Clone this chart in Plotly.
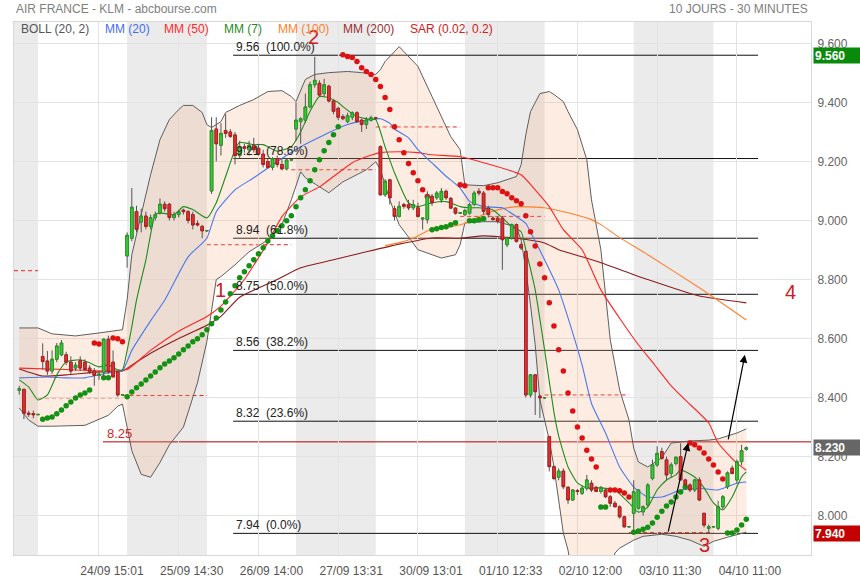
import plotly.graph_objects as go

# ---------------- data ----------------
opens = [8.425, 8.428, 8.347, 8.346, 8.342, 8.539, 8.524, 8.49, 8.53, 8.545, 8.545, 8.52, 8.50, 8.525, 8.52, 8.50, 8.49, 8.475, 8.486, 8.598,
         8.52, 8.487, 8.409, 8.88, 8.94, 9.03, 8.995, 9.015, 8.98, 9.01, 9.025, 9.055, 9.055, 9.01, 9.02, 9.035, 9.03, 9.02, 8.99, 8.98,
         8.965, 9.10, 9.31, 9.255, 9.305, 9.30, 9.29, 9.22, 9.25, 9.24, 9.255, 9.245, 9.225, 9.20, 9.18, 9.21, 9.19, 9.175, 9.205, 9.31,
         9.335, 9.34, 9.385, 9.46, 9.465, 9.43, 9.455, 9.405, 9.38, 9.352, 9.335, 9.35, 9.365, 9.34, 9.325, 9.34, 9.348, 9.25, 9.087, 9.138,
         9.04, 9.014, 9.054, 9.054, 9.043, 9.043, 9.005, 9.003, 9.082, 9.077, 9.07, 9.099, 9.075, 9.042, 9.025, 9.02, 9.025, 9.054, 9.099, 9.093,
         9.042, 9.008, 9.008, 9.008, 8.918, 8.941, 8.986, 8.918, 8.895, 8.409, 8.477, 8.405, 8.399, 8.268, 8.166, 8.130, 8.151, 8.096, 8.053, 8.085,
         8.076, 8.093, 8.110, 8.096, 8.082, 8.087, 8.064, 8.042, 8.030, 7.996, 7.962, 8.008, 8.025, 8.013, 8.036, 8.126, 8.172, 8.217, 8.189, 8.143,
         8.177, 8.200, 8.121, 8.104, 8.087, 8.121, 8.008, 7.957, 7.962, 7.957, 8.030, 8.098, 8.161, 8.121, 8.183, 8.225]
highs = [8.44, 8.43, 8.355, 8.356, 8.345, 8.584, 8.558, 8.56, 8.585, 8.595, 8.555, 8.54, 8.52, 8.54, 8.53, 8.51, 8.50, 8.49, 8.60, 8.61,
         8.56, 8.49, 8.412, 8.96, 9.11, 9.05, 9.04, 9.03, 9.02, 9.03, 9.075, 9.065, 9.06, 9.03, 9.035, 9.04, 9.035, 9.03, 9.00, 8.985,
         8.968, 9.35, 9.35, 9.33, 9.36, 9.31, 9.30, 9.27, 9.26, 9.27, 9.28, 9.26, 9.24, 9.21, 9.215, 9.22, 9.21, 9.21, 9.208, 9.40,
         9.35, 9.43, 9.47, 9.555, 9.475, 9.48, 9.46, 9.41, 9.385, 9.36, 9.365, 9.37, 9.37, 9.345, 9.35, 9.355, 9.35, 9.255, 9.14, 9.14,
         9.05, 9.065, 9.06, 9.07, 9.07, 9.06, 9.01, 9.099, 9.09, 9.10, 9.11, 9.105, 9.08, 9.045, 9.028, 9.04, 9.06, 9.10, 9.11, 9.10,
         9.05, 9.015, 9.015, 9.015, 8.945, 8.99, 8.99, 8.925, 8.90, 8.48, 8.48, 8.41, 8.402, 8.27, 8.17, 8.16, 8.16, 8.10, 8.09, 8.09,
         8.10, 8.138, 8.12, 8.10, 8.10, 8.09, 8.07, 8.05, 8.035, 8.00, 7.965, 8.12, 8.09, 8.035, 8.11, 8.19, 8.235, 8.23, 8.20, 8.18,
         8.20, 8.245, 8.125, 8.11, 8.125, 8.13, 8.01, 7.97, 7.965, 8.05, 8.07, 8.15, 8.17, 8.19, 8.24, 8.235]
lows = [8.41, 8.327, 8.335, 8.33, 8.34, 8.494, 8.477, 8.48, 8.52, 8.54, 8.51, 8.48, 8.49, 8.49, 8.49, 8.48, 8.44, 8.46, 8.47, 8.48,
        8.47, 8.403, 8.407, 8.84, 8.93, 8.96, 8.96, 8.97, 8.97, 9.00, 9.02, 9.03, 9.00, 9.00, 9.01, 9.02, 8.99, 8.97, 8.98, 8.94,
        8.962, 9.09, 9.20, 9.22, 9.28, 9.28, 9.19, 9.21, 9.23, 9.22, 9.23, 9.22, 9.18, 9.175, 9.17, 9.18, 9.17, 9.17, 9.203, 9.27,
        9.26, 9.33, 9.38, 9.45, 9.42, 9.42, 9.40, 9.36, 9.34, 9.34, 9.33, 9.34, 9.33, 9.30, 9.31, 9.335, 9.345, 9.085, 9.08, 9.054,
        9.00, 9.01, 9.04, 9.035, 9.035, 9.01, 8.969, 8.99, 9.05, 9.07, 9.06, 9.07, 9.04, 9.02, 9.022, 9.015, 9.02, 9.05, 9.085, 9.02,
        9.01, 9.00, 8.99, 8.833, 8.91, 8.935, 8.925, 8.90, 8.40, 8.40, 8.341, 8.331, 8.396, 8.15, 8.12, 8.12, 8.09, 8.04, 8.05, 8.07,
        8.07, 8.085, 8.08, 8.08, 8.075, 8.06, 8.03, 8.03, 7.99, 7.96, 7.959, 7.95, 8.02, 8.00, 8.03, 8.12, 8.165, 8.19, 8.12, 8.13,
        8.17, 8.12, 8.10, 8.08, 8.08, 8.05, 7.96, 7.94, 7.959, 7.95, 8.02, 8.09, 8.14, 8.11, 8.17, 8.22]
closes = [8.43, 8.347, 8.343, 8.342, 8.343, 8.522, 8.49, 8.53, 8.575, 8.585, 8.52, 8.49, 8.51, 8.50, 8.495, 8.488, 8.475, 8.48, 8.598, 8.487,
          8.47, 8.409, 8.41, 8.95, 9.045, 8.97, 9.015, 8.98, 9.01, 9.02, 9.055, 9.04, 9.01, 9.02, 9.03, 9.03, 9.00, 8.985, 8.985, 8.965,
          8.966, 9.305, 9.26, 9.295, 9.295, 9.285, 9.22, 9.25, 9.245, 9.255, 9.24, 9.225, 9.19, 9.18, 9.21, 9.19, 9.175, 9.205, 9.206, 9.34,
          9.345, 9.385, 9.46, 9.475, 9.425, 9.46, 9.405, 9.37, 9.35, 9.345, 9.355, 9.365, 9.335, 9.325, 9.34, 9.348, 9.347, 9.087, 9.133, 9.077,
          9.014, 9.048, 9.048, 9.043, 9.054, 9.014, 9.008, 9.082, 9.06, 9.093, 9.099, 9.077, 9.042, 9.025, 9.026, 9.034, 9.054, 9.093, 9.093, 9.031,
          9.02, 9.003, 8.997, 8.935, 8.941, 8.986, 8.929, 8.907, 8.409, 8.477, 8.42, 8.399, 8.40, 8.166, 8.126, 8.151, 8.098, 8.053, 8.087, 8.082,
          8.093, 8.121, 8.087, 8.082, 8.096, 8.064, 8.042, 8.030, 7.996, 7.962, 7.963, 8.081, 8.087, 8.03, 8.104, 8.172, 8.211, 8.194, 8.138, 8.172,
          8.198, 8.121, 8.104, 8.087, 8.121, 8.053, 7.968, 7.962, 7.963, 8.030, 8.064, 8.145, 8.143, 8.183, 8.22, 8.23]

x_tick_bars = [17, 34, 51, 68, 85, 102, 119, 136, 153]
x_tick_labels = ["24/09 15:01", "25/09 14:30", "26/09 14:00", "27/09 13:31", "30/09 13:01",
                 "01/10 12:33", "02/10 12:00", "03/10 11:30", "04/10 11:00"]
y_ticks = [8.0, 8.2, 8.4, 8.6, 8.8, 9.0, 9.2, 9.4, 9.6]

shaded_days = [(-14, 4), (23, 40), (59, 76), (95, 112), (131, 148)]

bb_up_bar = [0, 4, 7, 12, 17, 20, 22, 23, 24, 26, 28, 30, 32, 34, 35, 37, 39, 40, 41, 43, 44, 47, 50, 53, 56, 58, 59, 61, 63, 66,
             70, 73, 76, 77, 78, 81, 85, 88, 92, 94, 95, 99, 102, 106, 107, 108, 109, 111, 113, 114, 116, 117, 119, 121, 122, 124, 125, 126,
             128, 130, 131, 132, 134, 137, 139, 143, 147, 149, 153, 155]
bb_up = [8.636, 8.636, 8.616, 8.609, 8.619, 8.626, 8.630, 8.731, 8.884, 9.020, 9.155, 9.274, 9.342, 9.376, 9.390, 9.390, 9.366, 9.325,
         9.315, 9.335, 9.366, 9.390, 9.410, 9.437, 9.440, 9.420, 9.403, 9.478, 9.495, 9.501, 9.505, 9.501, 9.495, 9.511, 9.539, 9.589,
         9.522, 9.420, 9.284, 9.240, 9.121, 9.118, 9.128, 9.149, 9.189, 9.291, 9.369, 9.430, 9.437, 9.427, 9.403, 9.369, 9.308, 9.206,
         9.070, 8.901, 8.748, 8.596, 8.426, 8.324, 8.229, 8.182, 8.165, 8.196, 8.246, 8.253, 8.256, 8.260, 8.280, 8.294]
bb_lo_bar = [0, 2, 4, 7, 14, 19, 21, 22, 23, 24, 26, 28, 30, 32, 35, 38, 40, 41, 42, 43, 46, 49, 53, 56, 58, 60, 61, 66, 69, 74,
             76, 77, 79, 81, 85, 90, 93, 94, 95, 99, 102, 105, 106, 107, 108, 109, 110, 111, 113, 114, 115, 116, 117, 118, 120, 122, 125,
             127, 128, 131, 133, 137, 140, 143, 146, 148, 151, 155]
bb_lo = [8.365, 8.324, 8.303, 8.303, 8.306, 8.340, 8.371, 8.378, 8.300, 8.220, 8.140, 8.130, 8.180, 8.240, 8.300, 8.450, 8.590, 8.690,
         8.800, 8.810, 8.850, 8.894, 8.934, 8.986, 9.070, 9.165, 9.145, 9.094, 9.131, 9.172, 9.199, 9.172, 9.070, 8.986, 8.901, 8.873,
         8.884, 8.918, 8.992, 8.996, 8.996, 8.982, 8.976, 8.934, 8.833, 8.714, 8.579, 8.392, 8.256, 8.165, 8.053, 7.941, 7.883, 7.780,
         7.710, 7.700, 7.750, 7.873, 7.890, 7.917, 7.930, 7.937, 7.930, 7.917, 7.896, 7.913, 7.927, 7.944]

mm7_bar = [0, 2, 4, 6, 8, 10, 13, 15, 17, 19, 21, 22, 23, 24, 25, 27, 29, 30, 33, 35, 37, 40, 42, 44, 46, 47, 50, 52, 55, 58,
           60, 62, 64, 66, 68, 69, 72, 75, 76, 78, 80, 83, 85, 88, 91, 94, 96, 98, 101, 103, 105, 107, 108, 110, 112, 114, 115, 117,
           119, 121, 124, 127, 130, 132, 134, 136, 138, 140, 141, 144, 146, 148, 150, 152, 154, 155]
mm7 = [8.460, 8.436, 8.392, 8.409, 8.477, 8.521, 8.528, 8.518, 8.504, 8.511, 8.494, 8.494, 8.56, 8.64, 8.73, 8.867, 9.02, 9.026,
       9.02, 9.047, 9.037, 9.009, 9.06, 9.149, 9.24, 9.265, 9.257, 9.257, 9.235, 9.25, 9.30, 9.37, 9.42, 9.416, 9.40, 9.386, 9.352,
       9.342, 9.342, 9.25, 9.162, 9.06, 9.047, 9.06, 9.064, 9.047, 9.043, 9.043, 9.036, 9.009, 8.979, 8.962, 8.901, 8.765, 8.562,
       8.35, 8.27, 8.165, 8.111, 8.094, 8.094, 8.087, 8.043, 8.012, 8.029, 8.087, 8.121, 8.138, 8.155, 8.131, 8.094, 8.043, 8.019,
       8.063, 8.131, 8.148]

mm20_bar = [0, 6, 10, 14, 17, 20, 22, 24, 28, 31, 36, 40, 42, 46, 50, 55, 60, 65, 70, 74, 77, 79, 80, 83, 85, 88, 91, 94, 96, 99,
            103, 106, 108, 109, 112, 115, 117, 120, 122, 125, 128, 131, 134, 137, 141, 145, 149, 153, 155]
mm20 = [8.467, 8.470, 8.467, 8.467, 8.477, 8.487, 8.490, 8.56, 8.66, 8.73, 8.877, 8.94, 9.03, 9.104, 9.145, 9.20, 9.25, 9.29,
        9.325, 9.34, 9.345, 9.33, 9.31, 9.28, 9.24, 9.195, 9.15, 9.11, 9.065, 9.047, 9.043, 9.013, 8.99, 8.96, 8.867, 8.765, 8.67,
        8.51, 8.38, 8.28, 8.165, 8.097, 8.063, 8.063, 8.087, 8.093, 8.087, 8.11, 8.114]

mm50_bar = [0, 10, 20, 23, 28, 34, 40, 43, 48, 53, 56, 60, 64, 67, 71, 74, 77, 81, 85, 88, 94, 99, 107, 110, 113, 116, 120, 124,
            128, 132, 135, 139, 142, 147, 149, 153, 155]
mm50 = [8.50, 8.495, 8.49, 8.495, 8.56, 8.625, 8.675, 8.71, 8.80, 8.925, 9.013, 9.08, 9.114, 9.149, 9.196, 9.216, 9.230, 9.233,
        9.230, 9.223, 9.216, 9.196, 9.155, 9.104, 9.047, 8.969, 8.901, 8.765, 8.669, 8.579, 8.52, 8.44, 8.392, 8.314, 8.246, 8.178,
        8.154]

mm100_bar = [78, 81, 84, 88, 92, 96, 99, 102, 106, 112, 117, 122, 124, 128, 134, 145, 155]
mm100 = [8.915, 8.925, 8.94, 8.972, 8.979, 8.996, 9.02, 9.036, 9.047, 9.043, 9.026, 9.003, 8.986, 8.942, 8.884, 8.772, 8.663]

mm200_bar = [0, 5, 10, 17, 22, 24, 28, 34, 40, 43, 47, 55, 60, 67, 74, 81, 88, 94, 99, 106, 112, 115, 120, 124, 134, 145, 155]
mm200 = [8.497, 8.473, 8.477, 8.487, 8.49, 8.51, 8.55, 8.60, 8.645, 8.675, 8.74, 8.80, 8.84, 8.867, 8.894, 8.92, 8.941, 8.94,
         8.948, 8.94, 8.924, 8.901, 8.877, 8.857, 8.80, 8.744, 8.721]

sar_first_bar = 5
sar = [8.327, 8.331, 8.334, 8.345, 8.358, 8.372, 8.385, 8.399, 8.409, 8.416, 8.426,
       8.585, 8.582, 8.467, 8.467, 8.602, 8.599, 8.589,
       8.403, 8.419, 8.433, 8.446, 8.460, 8.473, 8.487, 8.501, 8.514, 8.524, 8.535, 8.548, 8.562, 8.575, 8.589, 8.599,
       8.613, 8.630, 8.650, 8.670, 8.697, 8.724, 8.752, 8.779, 8.806, 8.826, 8.847, 8.867, 8.887, 8.908, 8.931, 8.948,
       8.965, 8.982, 8.999, 9.016, 9.047, 9.077, 9.104, 9.135, 9.172, 9.206, 9.236, 9.264, 9.291, 9.318,
       9.562, 9.556, 9.552, 9.539, 9.518, 9.505, 9.495, 9.478, 9.454, 9.417, 9.376, 9.318, 9.274, 9.230, 9.193, 9.162,
       9.135, 9.104, 9.081,
       8.969, 8.972, 8.976, 8.979, 8.986, 8.992, 9.121, 9.118, 8.999, 8.999, 9.003, 9.006,
       9.111, 9.111, 9.111, 9.098, 9.091, 9.077, 9.067, 9.057, 9.016, 8.962, 8.914, 8.853, 8.806, 8.721, 8.643, 8.562,
       8.490, 8.416, 8.355, 8.300, 8.263, 8.222, 8.192, 8.165,
       8.029, 8.029, 8.087, 8.087, 8.084, 8.077, 8.063,
       7.944, 7.948, 7.954, 7.961, 7.975, 7.995, 8.015, 8.033, 8.046, 8.063, 8.080, 8.097,
       8.246, 8.240, 8.229, 8.212, 8.192, 8.172, 8.148, 8.124,
       7.941, 7.941, 7.951, 7.968, 7.988]

fib_levels = [9.56, 9.21, 8.94, 8.75, 8.56, 8.32, 7.94]
fib_pcts = ["100.0%", "78.6%", "61.8%", "50.0%", "38.2%", "23.6%", "0.0%"]
support_level = 8.25
daily_spans = [(-14, 4), (4, 22), (22, 40), (40, 58), (58, 76), (76, 94), (94, 112), (112, 130), (130, 148)]
daily_levels = [8.830, 8.399, 8.407, 8.918, 9.172, 9.317, 9.014, 8.409, 7.943]
arrow_moves = [((138.3, 7.941), (142.6, 8.246)), ((151.1, 8.253), (154.7, 8.545))]
wave_labels = [("1", 43.0, 8.765), ("2", 62.8, 9.622), ("3", 146.0, 7.90), ("4", 164.5, 8.758)]
price_high, price_last, price_low = 9.56, 8.23, 7.94

# ---------------- layout constants ----------------
X_RANGE = [-1.12, 168.8]
Y_RANGE = [7.8667, 9.6726]
FIG_W, FIG_H = 860, 580
L, R, T, B = 14, 49, 22, 25
PW = FIG_W - L - R
PH = FIG_H - T - B
FONT = "Liberation Sans, Arial, sans-serif"

def px_to_paper(px):
    return (px - L) / PW

bars = list(range(len(closes)))
fig = go.Figure()

# Bollinger fill
fig.add_trace(go.Scatter(x=bb_up_bar + bb_lo_bar[::-1], y=bb_up + bb_lo[::-1], fill="toself",
                         fillcolor="rgba(245,172,130,0.23)", line=dict(width=0), mode="lines", hoverinfo="skip"))
for bx, by in ((bb_up_bar, bb_up), (bb_lo_bar, bb_lo)):
    fig.add_trace(go.Scatter(x=bx, y=by, mode="lines", line=dict(color="#5f5f5f", width=1), hoverinfo="skip"))

# moving averages
for bx, by, col in ((mm200_bar, mm200, "#8e1b1b"), (mm100_bar, mm100, "#ff7f2a"), (mm50_bar, mm50, "#ff2424"),
                    (mm20_bar, mm20, "#4a78ee"), (mm7_bar, mm7, "#1d8c1d")):
    fig.add_trace(go.Scatter(x=bx, y=by, mode="lines", line=dict(color=col, width=1.1, shape="spline", smoothing=0.5),
                             hoverinfo="skip"))

# parabolic SAR
sar_x = list(range(sar_first_bar, sar_first_bar + len(sar)))
sar_col = ["#dd1111" if v > (highs[i] + lows[i]) / 2 else "#129112" for i, v in zip(sar_x, sar)]
fig.add_trace(go.Scatter(x=sar_x, y=sar, mode="markers", marker=dict(size=5.5, color=sar_col), hoverinfo="skip"))

# candles on an overlay subplot so they sit above the band fill
fig.add_trace(go.Candlestick(x=bars, open=opens, high=highs, low=lows, close=closes, whiskerwidth=0,
                             increasing=dict(line=dict(color="#555555", width=1), fillcolor="#555555"),
                             decreasing=dict(line=dict(color="#555555", width=1), fillcolor="#555555"),
                             xaxis="x2", yaxis="y2", hoverinfo="skip"))
body_hi = [max(o, c) for o, c in zip(opens, closes)]
body_lo = [min(o, c) for o, c in zip(opens, closes)]
fig.add_trace(go.Candlestick(x=bars, open=opens, high=body_hi, low=body_lo, close=closes, whiskerwidth=0,
                             increasing=dict(line=dict(color="#1f9a1f", width=0.8), fillcolor="#33cc33"),
                             decreasing=dict(line=dict(color="#b51818", width=0.8), fillcolor="#e23030"),
                             xaxis="x2", yaxis="y2", hoverinfo="skip"))

shapes = []
for a, b in shaded_days:
    shapes.append(dict(type="rect", xref="x", yref="paper", x0=max(a, X_RANGE[0]), x1=b, y0=0, y1=1,
                       fillcolor="#ebebeb", line=dict(width=0), layer="below"))
for (a, b), lv in zip(daily_spans, daily_levels):
    shapes.append(dict(type="line", xref="x", yref="y", x0=max(a, X_RANGE[0]), x1=b, y0=lv, y1=lv,
                       line=dict(color="#ee2222", width=1, dash="4px,3px"), layer="below"))
for lv in fib_levels:
    shapes.append(dict(type="line", xref="x", yref="y", x0=45.6, x1=157.5, y0=lv, y1=lv,
                       line=dict(color="#111111", width=1), layer="below"))
shapes.append(dict(type="line", xref="x", yref="y", x0=17.85, x1=X_RANGE[1], y0=support_level, y1=support_level,
                   line=dict(color="#b00000", width=1), layer="below"))

ann = []
for lv, pct in zip(fib_levels, fib_pcts):
    ann.append(dict(x=45.8, y=lv, xref="x", yref="y", text=f"{lv:.2f}\u00a0\u00a0({pct})", showarrow=False,
                    xanchor="left", yanchor="bottom", yshift=-1, font=dict(size=12, color="#222222")))
ann.append(dict(x=18.2, y=support_level, xref="x", yref="y", text=f"{support_level:.2f}", showarrow=False,
                xanchor="left", yanchor="bottom", yshift=-1, font=dict(size=13, color="#d02a2a")))
for (sx, sy), (tx, ty) in arrow_moves:
    ann.append(dict(x=tx, y=ty, ax=sx, ay=sy, xref="x", yref="y", axref="x", ayref="y", text="", showarrow=True,
                    arrowhead=2, arrowsize=1.3, arrowwidth=1.2, arrowcolor="#000000"))
for t, wx, wy in wave_labels:
    ann.append(dict(x=wx, y=wy, xref="x", yref="y", text=t, showarrow=False, font=dict(size=20, color="#cc2020")))

legend_items = [("BOLL (20, 2)", "#555555", 19), ("MM (20)", "#3f6ff0", 103), ("MM (50)", "#ff2a2a", 162),
                ("MM (7)", "#1f8a1f", 222), ("MM (100)", "#ff7f2a", 276), ("MM (200)", "#9a3030", 341),
                ("SAR (0.02, 0.2)", "#d42020", 408)]
for txt, col, px in legend_items:
    ann.append(dict(x=px_to_paper(px), y=1 - 7 / PH, xref="paper", yref="paper", text=txt, showarrow=False,
                    xanchor="left", yanchor="middle", font=dict(size=12, color=col)))
ann.append(dict(x=0, y=1 + 13 / PH, xref="paper", yref="paper", text="AIR FRANCE - KLM - abcbourse.com",
                showarrow=False, xanchor="left", yanchor="middle", font=dict(size=12, color="#808080")))
ann.append(dict(x=1 - 1 / PW, y=1 + 13 / PH, xref="paper", yref="paper", text="10 JOURS - 30 MINUTES",
                showarrow=False, xanchor="right", yanchor="middle", font=dict(size=12, color="#808080")))
for val, bg in ((price_high, "#0a8a0a"), (price_last, "#666666"), (price_low, "#c40000")):
    ann.append(dict(x=1, y=val, xref="paper", yref="y", text=f"<b>{val:.3f}</b>", showarrow=False,
                    xanchor="left", yanchor="middle", xshift=2, bgcolor=bg, width=44, height=13, align="left",
                    borderpad=1, font=dict(size=12, color="#ffffff")))

fig.update_layout(
    width=FIG_W, height=FIG_H, margin=dict(l=L, r=R, t=T, b=B, autoexpand=False), paper_bgcolor="white",
    plot_bgcolor="white", showlegend=False, font=dict(family=FONT), boxgap=0.2, shapes=shapes, annotations=ann,
    xaxis=dict(range=X_RANGE, tickvals=x_tick_bars, ticktext=x_tick_labels, showgrid=True, gridcolor="#e3e3e3",
               zeroline=False, showline=True, linecolor="#d8d8d8", mirror=True, ticks="outside", ticklen=5,
               tickcolor="rgba(0,0,0,0)", ticklabelshift=13, tickfont=dict(size=12, color="#555555"),
               rangeslider=dict(visible=False), automargin=False),
    yaxis=dict(range=Y_RANGE, side="right", tickvals=y_ticks, ticktext=[f"{v:.3f}" for v in y_ticks],
               showgrid=True, gridcolor="#e3e3e3", zeroline=False, showline=True, linecolor="#d8d8d8", mirror=True,
               ticks="outside", ticklen=3, tickcolor="rgba(0,0,0,0)", tickfont=dict(size=12, color="#666666"),
               automargin=False),
    xaxis2=dict(range=X_RANGE, overlaying="x", anchor="y2", visible=False, rangeslider=dict(visible=False),
                automargin=False),
    yaxis2=dict(range=Y_RANGE, overlaying="y", anchor="x2", visible=False, side="right", automargin=False),
)

# remove the browser's default page margin so the 860x580 figure fills the window exactly
fig.write_html("out.html", config={"displayModeBar": False, "responsive": False},
               post_script="document.body.style.margin='0px';document.body.style.overflow='hidden';")
